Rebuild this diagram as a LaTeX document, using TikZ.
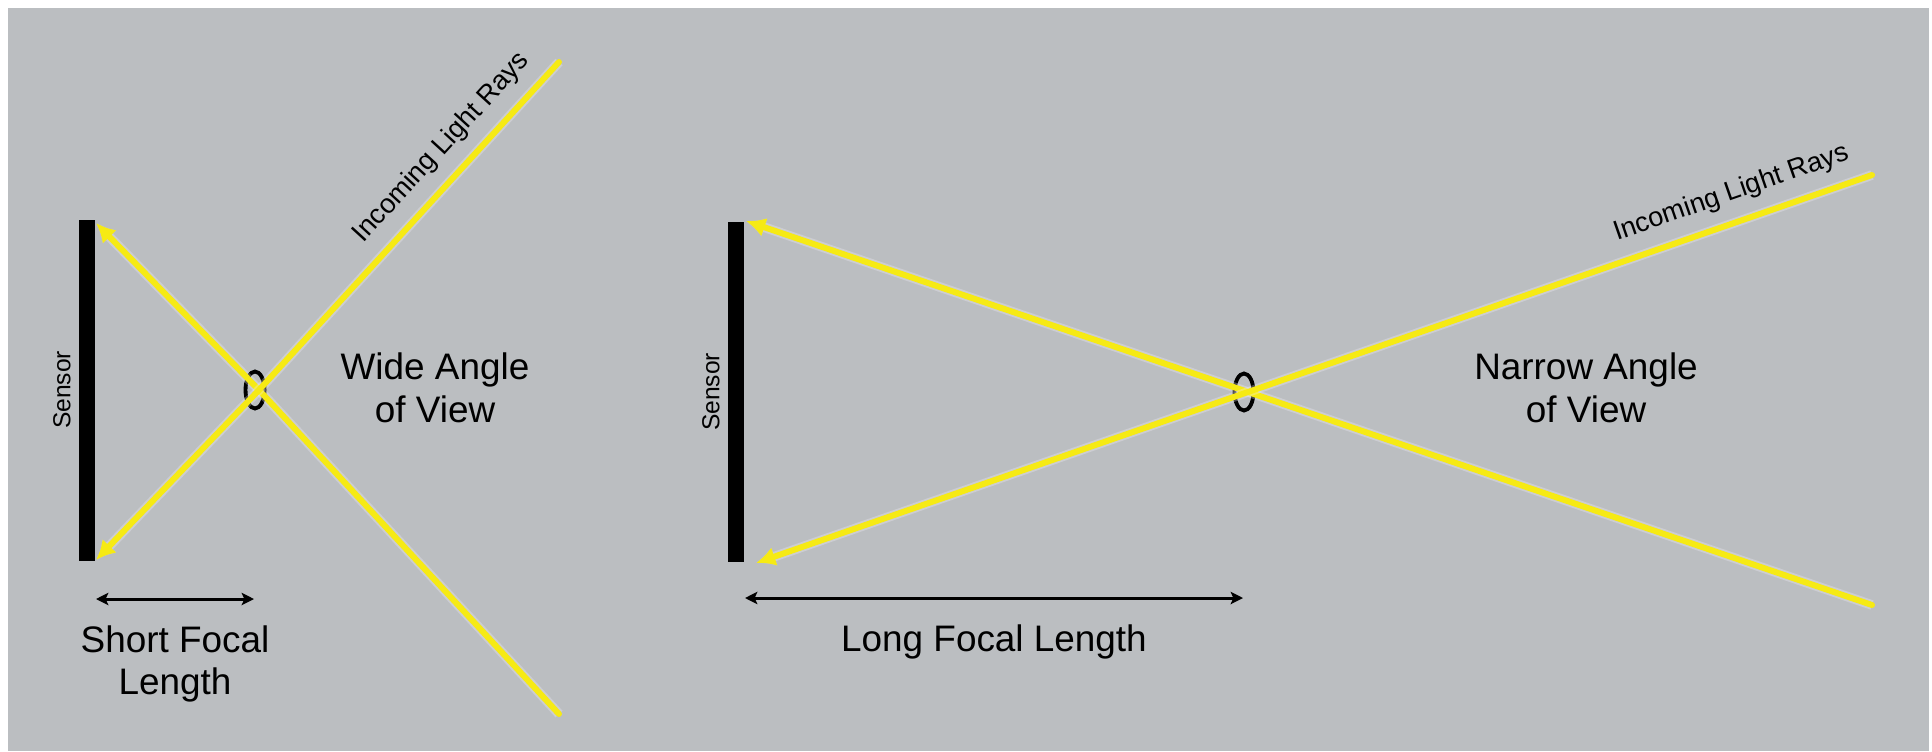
\documentclass[tikz,border=0pt]{standalone}
\usepackage{fontspec}
\setmainfont{Liberation Sans}
\usetikzlibrary{arrows.meta,positioning,shapes.geometric}
\definecolor{bggray}{HTML}{BBBEC1}
\definecolor{rayyellow}{HTML}{F6EA14}
\definecolor{glowwhite}{HTML}{F4F0FA}

\begin{document}
\begin{tikzpicture}[x=0.02cm, y=-0.02cm,
  sensorbar/.style={fill=black, inner sep=0pt, minimum width=0.32cm, minimum height=6.82cm},
  sensorlabel/.style={rotate=90, anchor=south, inner sep=0pt, font=\fontsize{14}{16}\selectfont},
  lens/.style={ellipse, draw=black, line width=2.2pt, minimum width=0.38cm, minimum height=0.74cm, inner sep=0pt},
  ray/.style={draw=rayyellow, line width=3.4pt, line cap=round, -{Latex[length=11pt,width=11pt]},
    preaction={draw=glowwhite, opacity=0.3, line width=5.5pt}},
  dimarrow/.style={draw=black, line width=1.7pt,
    {Stealth[length=7pt,width=7pt,inset=1.5pt]}-{Stealth[length=7pt,width=7pt,inset=1.5pt]}},
  textlabel/.style={align=center, inner sep=0pt, font=\fontsize{21}{24}\selectfont},
  raylabel/.style={sloped, above, inner sep=9pt, font=\fontsize{15.5}{17}\selectfont}]
\useasboundingbox (0,0) rectangle (1932,751);
\fill[white] (0,0) rectangle (1932,751);
\fill[bggray] (8,8) rectangle (1929,751);

% short focal length (left)
\node[sensorbar] (sensL) at (86.5,390.5) {};
\node[sensorlabel] (sensLtxt) at (71,390) {Sensor};
\node[lens] (lensL) at (255,390) {};
\coordinate (crossL) at (259,390);
\coordinate (farLa) at (559,62);
\coordinate (farLb) at (559,714);
\coordinate (tipLa) at (96,223);
\coordinate (tipLb) at (96,560);
\draw[ray] (farLb) -- (crossL) -- (tipLa);
\draw[ray] (farLa) -- (crossL) -- (tipLb);
\path (crossL) -- node[raylabel, pos=0.68] (raysL) {Incoming Light Rays} (farLa);
\node[textlabel, anchor=base] (wideL) at (435,422) {Wide Angle\\of View};
\coordinate (dimLa) at (96,599);
\coordinate (dimLb) at (254,599);
\draw[dimarrow] (dimLa) -- node[textlabel, below=14.5pt] (focL) {Short Focal\\Length} (dimLb);

% long focal length (right)
\node[sensorbar] (sensR) at (735.5,392) {};
\node[sensorlabel] (sensRtxt) at (720,392) {Sensor};
\node[lens] (lensR) at (1244,392) {};
\coordinate (crossR) at (1248,392);
\coordinate (farRa) at (1872,175);
\coordinate (farRb) at (1872,605);
\coordinate (tipRa) at (746,221);
\coordinate (tipRb) at (756,563);
\draw[ray] (farRb) -- (crossR) -- (tipRa);
\draw[ray] (farRa) -- (crossR) -- (tipRb);
\path (crossR) -- node[raylabel, pos=0.79] (raysR) {Incoming Light Rays} (farRa);
\node[textlabel, anchor=base] (narrowR) at (1586,422) {Narrow Angle\\of View};
\coordinate (dimRa) at (745,598);
\coordinate (dimRb) at (1243,598);
\draw[dimarrow] (dimRa) -- node[textlabel, below=14.5pt] (focR) {Long Focal Length} (dimRb);
\end{tikzpicture}
\end{document}
